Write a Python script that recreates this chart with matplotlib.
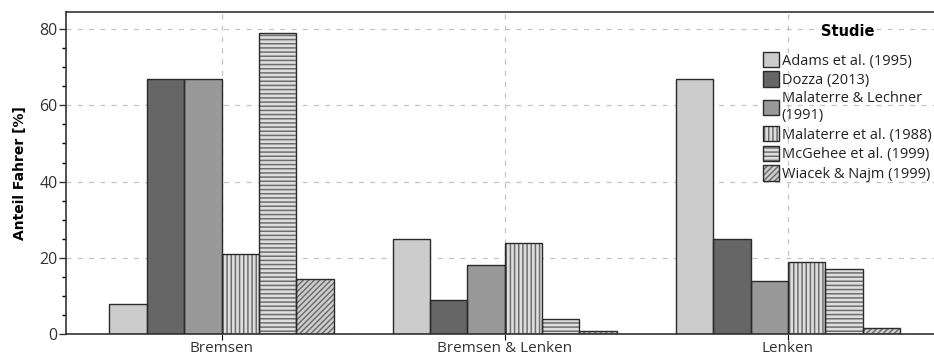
import numpy as np
import matplotlib
matplotlib.use('agg')
import matplotlib.pyplot as plt
from matplotlib.patches import Patch
from matplotlib.legend_handler import HandlerTuple
from matplotlib.ticker import MultipleLocator

# data
categories = ['Bremsen', 'Bremsen & Lenken', 'Lenken']
studies = ['Adams et al. (1995)', 'Dozza (2013)', 'Malaterre & Lechner\n(1991)',
           'Malaterre et al. (1988)', 'McGehee et al. (1999)', 'Wiacek & Najm (1999)']
adams = [8, 25, 67]
dozza = [67, 9, 25]
malaterre_lechner = [67, 18, 14]
malaterre = [21, 24, 19]
mcgehee = [79, 4, 17]
wiacek = [14.5, 0.8, 1.5]
values = [adams, dozza, malaterre_lechner, malaterre, mcgehee, wiacek]

faces = ['#cccccc', '#666666', '#999999', '#dedede', '#dedede', '#cfcfcf']
hatches = [None, None, None, '||||', '----', '//////']

plt.rcParams['font.family'] = ['Open Sans', 'DejaVu Sans']
plt.rcParams['hatch.linewidth'] = 1.1

fig = plt.figure(figsize=(9.34, 3.56), dpi=100)
ax = fig.add_axes([0.0707, 0.0618, 0.95, 0.9045])

x = np.arange(len(categories))
w = 0.132
handles = []
for i, (vals, fc, h) in enumerate(zip(values, faces, hatches)):
    pos = x + (i - 2.5) * w
    ax.bar(pos, vals, w, color=fc, hatch=h, edgecolor='#6e6e6e', linewidth=0, zorder=2)
    ax.bar(pos, vals, w, fill=False, edgecolor='#2a2a2a', linewidth=1.0, zorder=3)
    hp = Patch(facecolor=fc, hatch=h, edgecolor='#6e6e6e', linewidth=0)
    bp = Patch(fill=False, edgecolor='#2a2a2a', linewidth=1.0)
    handles.append((hp, bp))

ax.set_xlim(-0.549, 2.504 + 0.08)
ax.set_ylim(0, 84.5)
ax.set_xticks(x)
ax.set_xticklabels(categories, fontsize=11, color='#333333')
ax.yaxis.set_major_locator(MultipleLocator(20))
ax.yaxis.set_minor_locator(MultipleLocator(5))
ax.tick_params(axis='y', labelsize=11.5, colors='#333333', length=5, width=1, pad=1)
ax.tick_params(axis='y', which='minor', length=3, width=1)
ax.tick_params(axis='x', length=4, pad=1)
ax.set_ylabel('Anteil Fahrer [%]', fontsize=10, fontweight='bold', labelpad=9,
              family='DejaVu Sans')

ax.grid(True, linestyle=(0, (4, 5)), color='#c4c4c4', linewidth=0.9, zorder=0)
ax.set_axisbelow(True)
ax.spines['right'].set_visible(False)
for s in ['left', 'top', 'bottom']:
    ax.spines[s].set_color('#333333')
    ax.spines[s].set_linewidth(1.2)

leg = ax.legend(handles, studies, handler_map={tuple: HandlerTuple(ndivide=1)},
                title='Studie', loc='upper left', bbox_to_anchor=(0.772, 1.0),
                frameon=False, handlelength=1.05, handleheight=1.25,
                handletextpad=0.2, labelspacing=0.2, borderpad=0.35,
                prop={'family': 'Open Sans', 'size': 10.5})
leg.get_title().set_fontweight('bold')
leg.get_title().set_fontsize(10.5)
leg.get_title().set_family('DejaVu Sans')
leg._legend_box.sep = 9
for t in leg.get_texts():
    t.set_color('#222222')

fig.savefig('out.png', dpi=100)
